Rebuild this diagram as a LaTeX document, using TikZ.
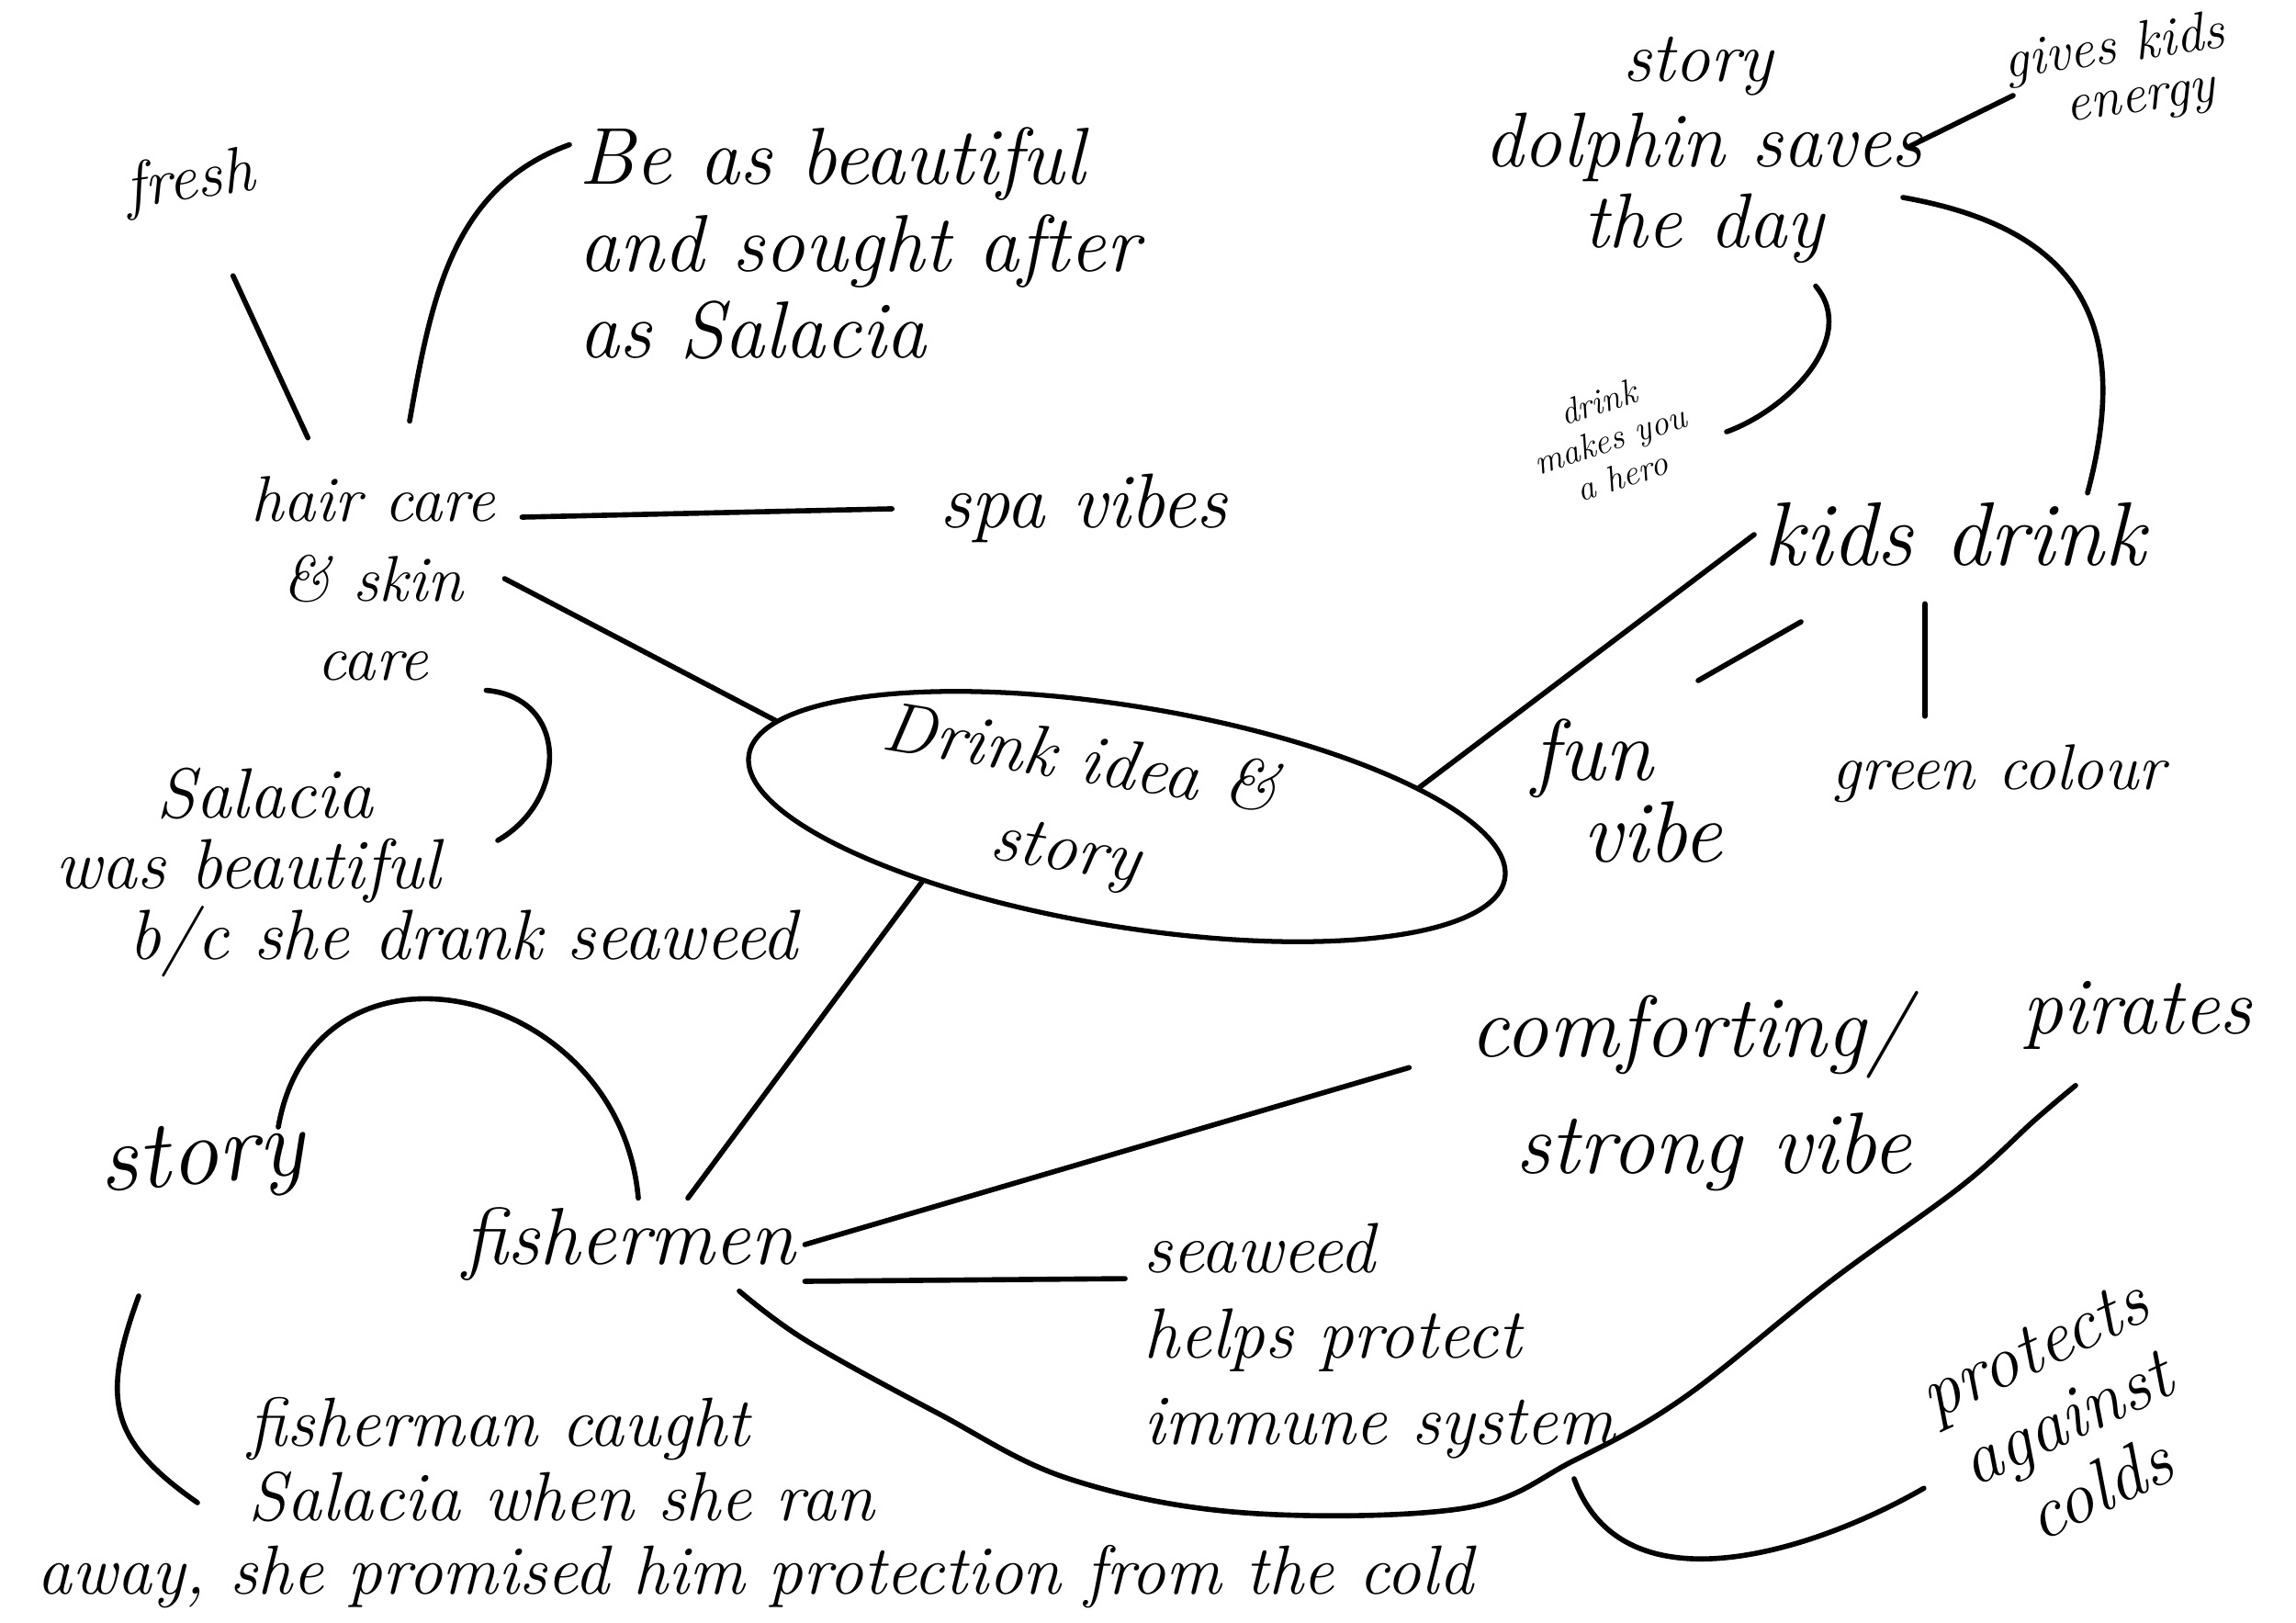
\documentclass[tikz,border=0pt]{standalone}
\usepackage{fontspec}
\usepackage{tikz}
\usetikzlibrary{positioning, calc, shapes}

\newcommand{\hw}[2]{\fontsize{#1}{#2}\selectfont\itshape}

\tikzset{
    link/.style={line width=1.6pt, line cap=round},
    note/.style={inner sep=1mm},
}

\begin{document}
\begin{tikzpicture}
    \useasboundingbox (0,0) rectangle (25,-17.67);
    % hair and skin care branch
    \node[note, rotate=8, font=\hw{20}{24}] (fresh) at (2.07,-1.99) {fresh};
    \node[note, anchor=west, align=left, font=\hw{25}{27}] (beauty) at (6.2,-2.65) {Be as beautiful\\and sought after\\as Salacia};
    \node[note, align=center, font=\hw{20}{24.5}] (hair) at (4.06,-6.3) {hair care\\\& skin\\care};
    \node[note, font=\hw{24}{28}] (spa) at (11.8,-5.53) {spa vibes};
    \node[note, anchor=west, align=left, font=\hw{22}{22}] (salacia) at (0.5,-9.5) {\hspace*{1.1cm}Salacia\\was beautiful\\\hspace*{0.8cm}b/c she drank seaweed};
    % centre
    \node[draw, ellipse, line width=1.5pt, rotate=-9.3, minimum width=8.34cm, minimum height=2.4cm, inner sep=0pt, align=center, font=\hw{22}{28}] (idea) at (12.27,-8.89) {Drink idea \&\hspace*{1.2cm}\\story\hspace*{1.2cm}};
    % fishermen branch
    \node[note, rotate=5, font=\hw{30}{34}] (story) at (2.2,-12.66) {story};
    \node[note, font=\hw{25}{28}] (fishermen) at (6.85,-13.55) {fishermen};
    \node[note, anchor=south west, align=left, font=\hw{21.5}{23}] (caught) at (0.3,-17.62) {\hspace*{2.3cm}fisherman caught\\\hspace*{2.3cm}Salacia when she ran\\away, she promised him protection from the cold};
    \node[note, anchor=west, align=left, font=\hw{27}{36}] (comfort) at (15.9,-11.88) {comforting/\\\hspace*{0.5cm}strong vibe};
    \node[note, anchor=west, align=left, font=\hw{22}{26.5}] (seaweed) at (12.35,-14.6) {seaweed\\helps protect\\immune system};
    \node[note, font=\hw{25}{28}] (pirates) at (23.27,-11.05) {pirates};
    \node[note, rotate=25, align=center, font=\hw{23}{24}] (protect) at (22.5,-15.45) {protects\\against\\colds};
    % kids drink branch
    \node[note, font=\hw{22}{24}] (tale) at (18.49,-0.72) {story};
    \node[note, align=center, font=\hw{24}{25}] (dolphin) at (18.55,-2.05) {dolphin saves\\the day};
    \node[note, anchor=west, align=left, rotate=8, font=\hw{17}{16}] (energy) at (21.76,-1.0) {gives kids\\\hspace*{0.6cm}energy};
    \node[note, rotate=18, align=center, font=\hw{11}{12}] (hero) at (17.53,-4.78) {drink\\makes you\\a hero};
    \node[note, font=\hw{28}{30}] (kids) at (21.28,-5.82) {kids drink};
    \node[note, anchor=west, align=left, font=\hw{27}{23}] (fun) at (16.58,-8.61) {fun\\\hspace*{0.55cm}vibe};
    \node[note, font=\hw{20}{24}] (green) at (21.76,-8.42) {green colour};
    \coordinate (cusp) at (17.14,-15.9);

    \draw[link, shorten <=0.67cm, shorten >=0.35cm] (fresh) -- (hair);
    \draw[link] ([shift={(0.4,0.5)}]hair.north) to[out=80, in=200] ([yshift=-0.3cm]beauty.north west);
    \draw[link, shorten <=0.19cm, shorten >=0.42cm] ([yshift=-0.55cm]hair.north east) -- (spa.west);
    \draw[link] (hair.east) -- (idea.174);
    \draw[link] ([xshift=-0.2cm]hair.south east) to[out=-5, in=30, looseness=1.4] ([shift={(4.92,0.35)}]salacia.west);
    \draw[link] (idea.207) -- ([xshift=0.64cm]fishermen.north);
    \draw[link] ([shift={(0.83,0.39)}]story.center) to[out=80, in=95, looseness=1.5] ([xshift=0.1cm]fishermen.north);
    \draw[link] ([shift={(-0.69,-1.45)}]story.center) to[out=250, in=145, looseness=1.3] ([shift={(1.85,1.26)}]caught.south west);
    \draw[link, shorten >=0.58cm] (fishermen.east) -- ([yshift=0.42cm]comfort.west);
    \draw[link, shorten >=0.1cm] ([yshift=-0.4cm]fishermen.east) -- ([yshift=0.68cm]seaweed.west);
    \draw[link] plot[smooth, tension=0.6] coordinates {([xshift=1.2cm]fishermen.south) (8.77,-14.59) (10.2,-15.38) (11.64,-16.1) (13.55,-16.47) (15.94,-16.42) (cusp) (18.33,-15.22) (19.93,-13.95) (21.36,-12.91) (22.16,-12.19) ([shift={(-0.67,-0.29)}]pirates.south)};
    \draw[link, shorten >=0.3cm] ([yshift=-0.2cm]cusp) to[out=-70, in=210] (protect.west);
    \draw[link] ([shift={(2.25,0.46)}]dolphin.center) -- ([shift={(0.16,-0.04)}]energy.west);
    \draw[link] ([shift={(2.17,-0.1)}]dolphin.center) to[out=-10, in=75, looseness=1.3] ([xshift=1.45cm]kids.north);
    \draw[link] ([shift={(1.22,-0.14)}]dolphin.south) to[out=-50, in=20] ([shift={(0.35,-0.22)}]hero.east);
    \draw[link] (kids.west) -- (idea.15);
    \draw[link] ([shift={(-1.67,-0.95)}]kids.center) -- ([shift={(1.91,1.2)}]fun.west);
    \draw[link, shorten <=0.3cm, shorten >=0.2cm] ([xshift=-0.32cm]kids.south) -- ([xshift=-0.8cm]green.north);
\end{tikzpicture}
\end{document}
